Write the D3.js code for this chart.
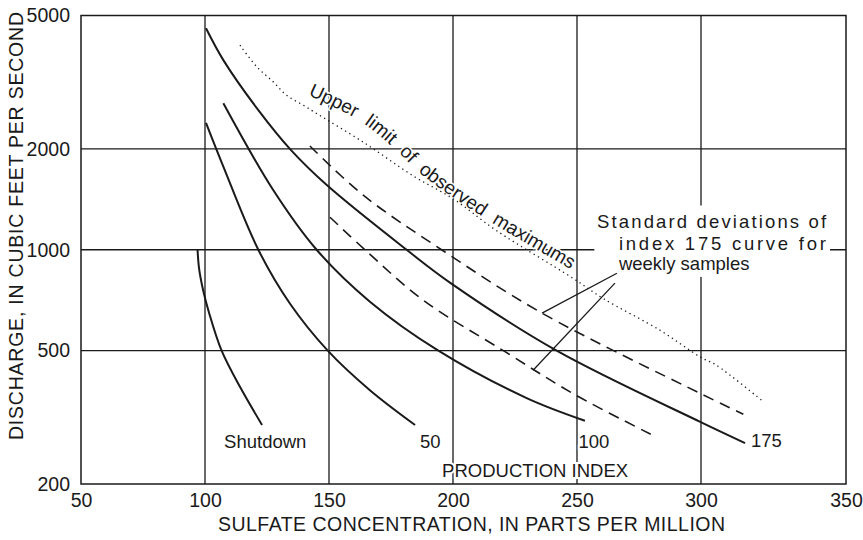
<!DOCTYPE html>
<html>
<head>
<meta charset="utf-8">
<script src="https://cdn.jsdelivr.net/npm/d3@7"></script>
<style>
body { margin: 0; background: #fff; }
text { font-family: "Liberation Sans", Arial, Helvetica, sans-serif; fill: #1a1a1a; }
</style>
</head>
<body>
<svg></svg>
<script>
// tick labels
var xTicks = [50, 100, 150, 200, 250, 300, 350];
var yTicks = [200, 500, 1000, 2000, 5000];

// production index curves (sulfate ppm vs discharge cfs)
var shutdownX = [97, 97.6, 99.2, 101.6, 106.7, 114.1, 123];
var shutdownY = [1000, 880, 760, 650, 500, 390, 300];

var index50X = [100.4, 107.4, 121.5, 134.3, 149.5, 166.5, 184.7];
var index50Y = [2390, 1770, 1000, 690, 500, 381, 300];

var index100X = [107.4, 127.5, 145, 166.5, 194.1, 229.7, 253.2];
var index100Y = [2735, 1507, 1000, 700, 500, 361, 309];

var index175X = [100.4, 107.4, 121.5, 134.5, 149.1, 181.3, 199.2, 241.8, 299.9, 315.2];
var index175Y = [4580, 3680, 2610, 1990, 1560, 1000, 794, 500, 306, 265];

// standard deviation curves for index 175
var upperSdX = [142.3, 163.8, 195.4, 235.1, 299.9, 314.6];
var upperSdY = [2040, 1455, 1000, 652, 372, 323];

var lowerSdX = [150.4, 164.5, 188, 220.3, 249.6, 282.1];
var lowerSdY = [1250, 1000, 707, 500, 368, 276];

// upper limit of observed maximums
var maxX = [114.1, 120.8, 127.5, 132.9, 139.6, 145, 164, 184, 200, 217.6, 248.5, 260.6, 283.5, 299.8, 305.2, 321.5];
var maxY = [4080, 3520, 3170, 2890, 2700, 2550, 2090, 1660, 1420, 1140, 821, 715, 575, 478, 453, 352];

var curveLabels = ['Shutdown', '50', '100', '175'];
var curveLabelX = [107.7, 186.7, 250.6, 317.2];
var curveLabelY = [256, 256, 256, 258];

// baseline the "Upper limit" caption follows
var captionX = [141.5, 162.5, 177, 187.1, 212.1, 248];
var captionY = [2894, 2421, 1984, 1682, 1252, 870];

var svgWidth = 863, svgHeight = 540;
var marginLeft = 81, marginTop = 15.5;
var width = 765, height = 468.5;
var ink = '#1a1a1a';

var svg = d3.select('svg')
  .attr('width', svgWidth)
  .attr('height', svgHeight);

var g = svg.append('g')
  .attr('transform', 'translate(' + marginLeft + ',' + marginTop + ')');

var xScale = d3.scaleLinear()
  .domain([50, 300, 350])
  .range([0, 620, width]);

var yScale = d3.scaleLog()
  .domain([200, 5000])
  .range([height, 0]);

// grid
g.selectAll('.vgrid')
  .data(xTicks.slice(1, -1))
  .enter().append('line')
  .attr('x1', function(d){ return xScale(d); })
  .attr('x2', function(d){ return xScale(d); })
  .attr('y1', 0).attr('y2', height)
  .attr('stroke', ink).attr('stroke-width', 1.3);

g.selectAll('.hgrid')
  .data(yTicks.slice(1, -1))
  .enter().append('line')
  .attr('x1', 0).attr('x2', width)
  .attr('y1', function(d){ return yScale(d); })
  .attr('y2', function(d){ return yScale(d); })
  .attr('stroke', ink).attr('stroke-width', 1.3);

g.append('rect')
  .attr('width', width).attr('height', height)
  .attr('fill', 'none').attr('stroke', ink).attr('stroke-width', 1.5);

// axes
var x_axis = d3.axisBottom(xScale).tickValues(xTicks).tickSize(0).tickPadding(0);
var y_axis = d3.axisLeft(yScale).tickValues(yTicks).tickSize(0).tickPadding(11)
  .tickFormat(d3.format('d'));

var gx = g.append('g')
  .attr('transform', 'translate(0,' + height + ')')
  .call(x_axis);
gx.select('.domain').remove();
gx.selectAll('text')
  .attr('y', 23).attr('dy', 0)
  .style('font-size', '19.5px').attr('fill', ink);

var gy = g.append('g').call(y_axis);
gy.select('.domain').remove();
gy.selectAll('text')
  .style('font-size', '19.5px').attr('fill', ink);
gx.attr('font-family', null);
gy.attr('font-family', null);

// axis titles
svg.append('text')
  .attr('x', 218).attr('y', 531)
  .attr('textLength', 507).attr('lengthAdjust', 'spacing')
  .style('font-size', '19.5px')
  .text('SULFATE CONCENTRATION, IN PARTS PER MILLION');

svg.append('text')
  .attr('transform', 'translate(23,440) rotate(-90)')
  .attr('textLength', 428).attr('lengthAdjust', 'spacing')
  .style('font-size', '19.5px')
  .text('DISCHARGE, IN CUBIC FEET PER SECOND');

var line = d3.line()
  .x(function(d){ return xScale(d[0]); })
  .y(function(d){ return yScale(d[1]); })
  .curve(d3.curveCatmullRom.alpha(0.5));

function pairs(xs, ys) { return xs.map(function(v, i){ return [v, ys[i]]; }); }

// halos under labels so the grid breaks around them
var haloLayer = g.append('g');
var curveLayer = g.append('g');
var textLayer = g.append('g');

g.append('defs').append('path')
  .attr('id', 'captionPath')
  .attr('d', line(pairs(captionX, captionY)));

function label(x, y, str, size) {
  [haloLayer, textLayer].forEach(function(layer, i) {
    var t = layer.append('text')
      .attr('x', xScale(x)).attr('y', yScale(y))
      .style('font-size', size + 'px')
      .text(str);
    if (i === 0) t.attr('stroke', '#fff').attr('stroke-width', 4).style('fill', '#fff');
  });
}

curveLabels.forEach(function(s, i) {
  label(curveLabelX[i], curveLabelY[i], s, 18.5);
});
label(195.6, 209.6, 'PRODUCTION INDEX', 18.5);

// upper limit caption, bent along the dotted curve
[haloLayer, textLayer].forEach(function(layer, i) {
  var t = layer.append('text')
    .style('font-size', '19px')
    .style('word-spacing', '6px');
  t.append('textPath')
    .attr('href', '#captionPath')
    .text('Upper limit of observed maximums');
  if (i === 0) t.attr('stroke', '#fff').attr('stroke-width', 3).style('fill', '#fff');
});

// curves
var solid = [[shutdownX, shutdownY], [index50X, index50Y], [index100X, index100Y], [index175X, index175Y]];
solid.forEach(function(s) {
  curveLayer.append('path')
    .attr('d', line(pairs(s[0], s[1])))
    .attr('fill', 'none').attr('stroke', ink).attr('stroke-width', 2);
});

[[upperSdX, upperSdY], [lowerSdX, lowerSdY]].forEach(function(s) {
  curveLayer.append('path')
    .attr('d', line(pairs(s[0], s[1])))
    .attr('fill', 'none').attr('stroke', ink).attr('stroke-width', 1.6)
    .attr('stroke-dasharray', '11,7');
});

curveLayer.append('path')
  .attr('d', line(pairs(maxX, maxY)))
  .attr('fill', 'none').attr('stroke', ink).attr('stroke-width', 1.3)
  .attr('stroke-dasharray', '1.3,3.6');

// standard deviation note
textLayer.append('rect')
  .attr('x', xScale(257)).attr('y', yScale(1355))
  .attr('width', xScale(344.5) - xScale(257))
  .attr('height', yScale(830) - yScale(1355))
  .attr('fill', '#fff');

var noteLines = ['Standard deviations of', 'index 175 curve for', 'weekly samples'];
var noteX = [258.1, 266.9, 266.9];
var noteY = [1160, 998, 869];
var noteLen = [229, 207, null];
noteLines.forEach(function(s, i) {
  var t = textLayer.append('text')
    .attr('x', xScale(noteX[i])).attr('y', yScale(noteY[i]))
    .style('font-size', '18.5px')
    .text(s);
  if (noteLen[i]) t.attr('textLength', noteLen[i]).attr('lengthAdjust', 'spacing');
});

// leader lines to the dashed curves
var leaders = [[266.1, 851, 235.9, 647], [265.3, 795, 232.3, 437]];
textLayer.selectAll('.leader')
  .data(leaders)
  .enter().append('line')
  .attr('x1', function(d){ return xScale(d[0]); })
  .attr('y1', function(d){ return yScale(d[1]); })
  .attr('x2', function(d){ return xScale(d[2]); })
  .attr('y2', function(d){ return yScale(d[3]); })
  .attr('stroke', ink).attr('stroke-width', 1.3);
</script>
</body>
</html>
